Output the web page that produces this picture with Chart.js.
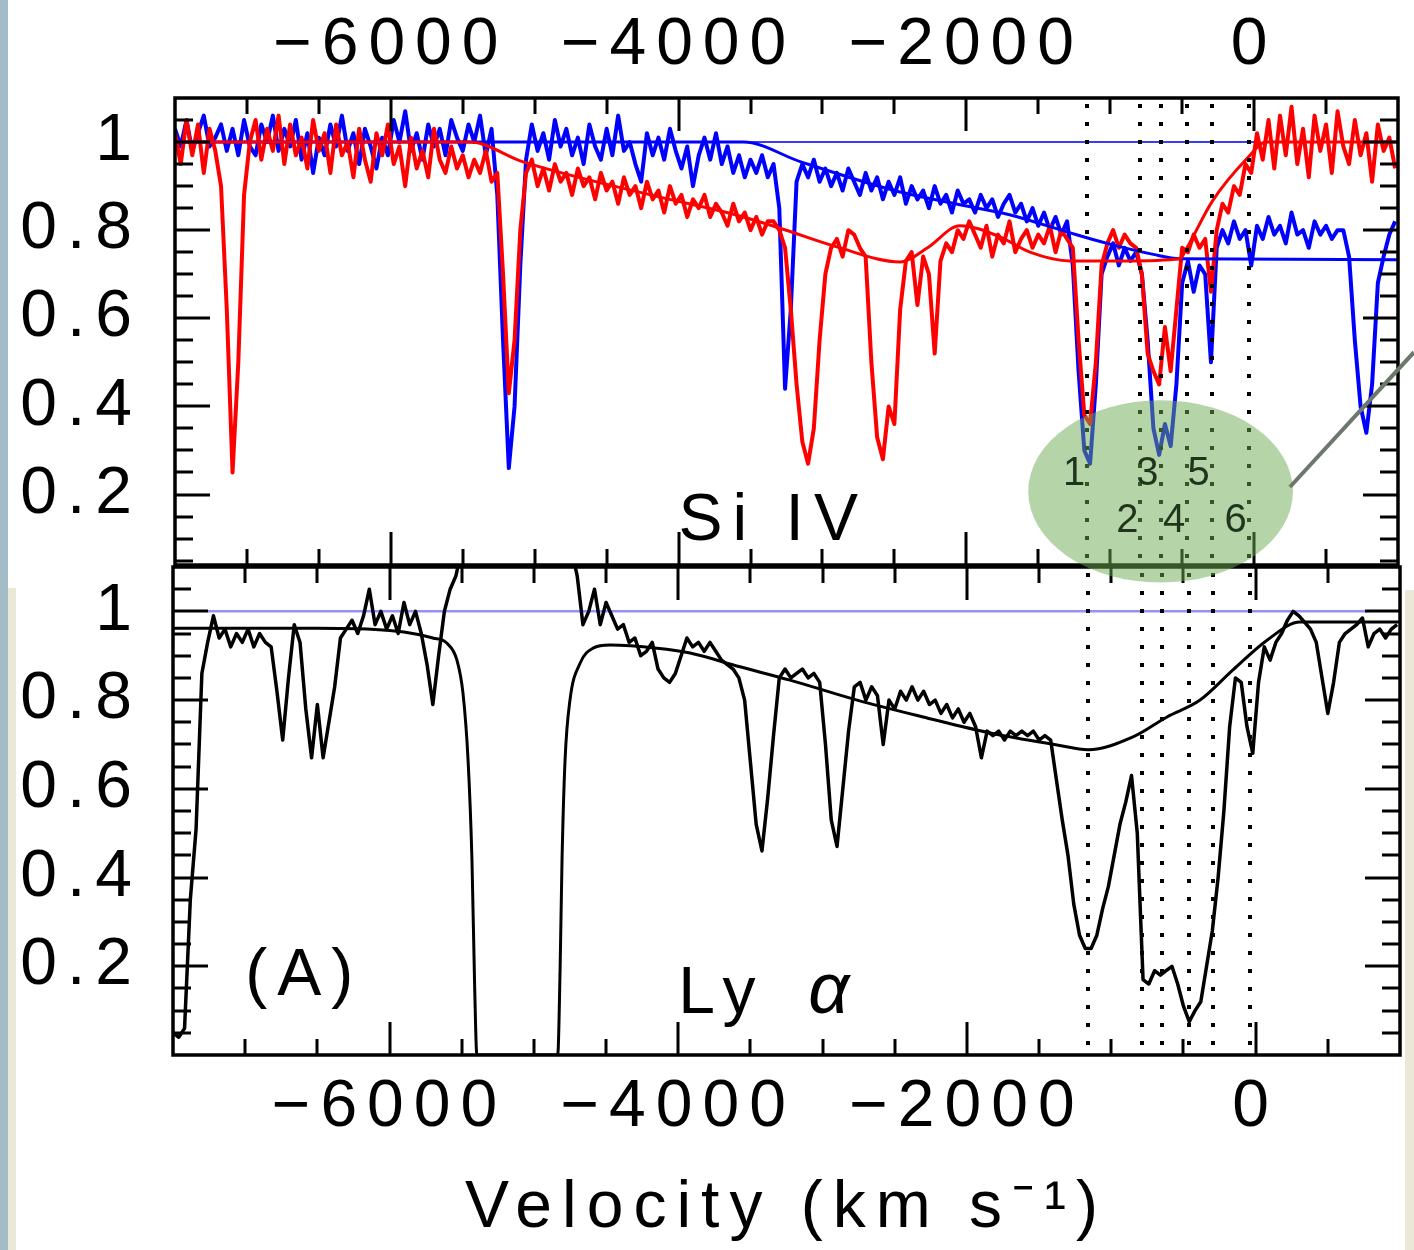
<!DOCTYPE html>
<html>
<head>
<meta charset="utf-8">
<title>Si IV and Ly alpha velocity profiles</title>
<script src="https://cdn.jsdelivr.net/npm/chart.js@4.4.1/dist/chart.umd.min.js"></script>
<style>
  html, body { margin: 0; padding: 0; background: #fff; }
  #page { position: relative; width: 1414px; height: 1250px; overflow: hidden; background: #fff; }
  #page canvas { position: absolute; left: 0; top: 0; }
  .edge { position: absolute; }
  #edgeLeft { left: 0; top: 0; width: 8px; height: 1250px; background: #a3bcc6; }
  #edgeLeftLow { left: 8px; top: 588px; width: 8px; height: 662px; background: #ebe8d8; }
  #edgeRightLow { left: 1405px; top: 590px; width: 9px; height: 660px; background: #ebe8d8; }
</style>
</head>
<body>
<div id="page">
  <div class="edge" id="edgeLeft"></div>
  <div class="edge" id="edgeLeftLow"></div>
  <div class="edge" id="edgeRightLow"></div>
  <canvas id="lyaChart" width="1414" height="1250"></canvas>
  <canvas id="siivChart" width="1414" height="1250"></canvas>
</div>
<script>
// Spectra are sampled on a regular velocity grid (km/s)
const SPEC_V0 = -7500;
const SPEC_DV = 40;

// Axis ticks
const xTicks = [-6000, -4000, -2000, 0];
const yTicks = [0.2, 0.4, 0.6, 0.8, 1];

// Si IV, red member (normalised flux), one value per grid step
const siivRed = [
  1.02, 0.95, 1.05, 0.97, 1.04, 0.93, 1.03, 0.98, 0.90, 0.62,
  0.25, 0.50, 0.88, 1.00, 1.05, 0.96, 1.03, 0.98, 1.06, 0.95,
  1.04, 0.97, 1.01, 0.94, 1.05, 0.98, 1.02, 0.93, 1.04, 0.97,
  1.00, 0.92, 1.03, 0.96, 0.91, 1.02, 0.97, 1.04, 0.95, 0.99,
  0.90, 1.01, 0.94, 0.98, 0.92, 1.03, 0.96, 0.93, 0.99, 0.94,
  0.97, 0.92, 0.96, 0.93, 0.98, 0.91, 0.93, 0.70, 0.43, 0.55,
  0.80, 0.93, 0.96, 0.90, 0.94, 0.89, 0.95, 0.91, 0.93, 0.88,
  0.94, 0.90, 0.92, 0.87, 0.93, 0.89, 0.91, 0.86, 0.92, 0.88,
  0.90, 0.85, 0.91, 0.87, 0.89, 0.84, 0.90, 0.86, 0.88, 0.83,
  0.87, 0.85, 0.88, 0.83, 0.86, 0.84, 0.81, 0.86, 0.82, 0.84,
  0.80, 0.83, 0.79, 0.82, 0.82, 0.80, 0.76, 0.62, 0.45, 0.32,
  0.27, 0.35, 0.55, 0.70, 0.76, 0.78, 0.74, 0.80, 0.79, 0.76,
  0.74, 0.50, 0.33, 0.28, 0.40, 0.36, 0.62, 0.73, 0.75, 0.63,
  0.74, 0.70, 0.52, 0.73, 0.77, 0.75, 0.80, 0.78, 0.82, 0.79,
  0.76, 0.81, 0.74, 0.79, 0.77, 0.82, 0.75, 0.78, 0.80, 0.76,
  0.79, 0.77, 0.81, 0.75, 0.80, 0.78, 0.76, 0.55, 0.38, 0.36,
  0.50, 0.72, 0.77, 0.80, 0.76, 0.79, 0.77, 0.76, 0.70, 0.52,
  0.48, 0.45, 0.58, 0.48, 0.62, 0.76, 0.75, 0.79, 0.76, 0.78,
  0.66, 0.80, 0.86, 0.84, 0.90, 0.88, 0.95, 0.93, 1.02, 0.96,
  1.05, 0.94, 1.06, 0.97, 1.08, 0.95, 1.03, 0.92, 1.06, 0.98,
  1.04, 0.93, 1.07, 0.99, 0.95, 1.05, 0.97, 1.02, 0.91, 1.04,
  0.98, 1.01, 0.94
];

// Si IV, blue member
const siivBlue = [
  1.03, 0.99, 1.05, 0.98, 1.02, 1.06, 0.99, 1.01, 1.04, 0.98,
  1.03, 0.97, 1.05, 0.99, 0.97, 1.04, 1.00, 1.06, 0.98, 1.03,
  0.99, 1.05, 0.96, 1.02, 0.93, 1.01, 0.97, 1.04, 0.99, 1.06,
  0.98, 1.02, 0.95, 1.03, 0.99, 0.94, 1.01, 0.97, 1.05, 1.00,
  1.07, 0.98, 1.02, 0.96, 1.04, 0.99, 1.03, 0.97, 1.05, 1.01,
  0.98, 1.04, 1.00, 1.06, 0.97, 1.03, 0.88, 0.55, 0.26, 0.40,
  0.72, 0.96, 1.04, 0.98, 1.02, 0.96, 1.05, 0.99, 1.03, 0.97,
  1.01, 0.95, 1.04, 0.99, 0.96, 1.03, 0.97, 1.06, 0.98, 1.00,
  0.95, 0.91, 1.02, 0.97, 1.01, 0.96, 1.03, 0.98, 0.94, 0.99,
  0.90, 0.97, 1.01, 0.96, 1.02, 0.95, 0.99, 0.93, 0.97, 0.92,
  0.96, 0.93, 0.97, 0.92, 0.95, 0.85, 0.44, 0.62, 0.91, 0.95,
  0.92, 0.96, 0.91, 0.94, 0.90, 0.93, 0.89, 0.94, 0.91, 0.88,
  0.93, 0.89, 0.92, 0.87, 0.91, 0.88, 0.92, 0.86, 0.90, 0.87,
  0.89, 0.85, 0.90, 0.86, 0.88, 0.84, 0.89, 0.86, 0.87, 0.84,
  0.88, 0.85, 0.87, 0.83, 0.86, 0.88, 0.84, 0.86, 0.82, 0.85,
  0.81, 0.84, 0.80, 0.83, 0.79, 0.82, 0.72, 0.48, 0.30, 0.27,
  0.45, 0.70, 0.74, 0.77, 0.72, 0.76, 0.73, 0.75, 0.70, 0.55,
  0.35, 0.29, 0.36, 0.31, 0.45, 0.68, 0.73, 0.66, 0.72, 0.70,
  0.50, 0.76, 0.80, 0.77, 0.82, 0.78, 0.80, 0.72, 0.81, 0.78,
  0.83, 0.79, 0.81, 0.77, 0.84, 0.79, 0.80, 0.76, 0.82, 0.79,
  0.81, 0.78, 0.80, 0.80, 0.74, 0.55, 0.40, 0.34, 0.45, 0.68,
  0.74, 0.79, 0.82
];

// Ly alpha (null where the emission runs off the top of the panel)
const lyaFlux = [
  0.05, 0.04, 0.06, 0.35, 0.51, 0.86, 0.93, 0.99, 0.94, 0.96,
  0.92, 0.95, 0.93, 0.96, 0.92, 0.95, 0.93, 0.92, 0.82, 0.71,
  0.85, 0.97, 0.93, 0.78, 0.67, 0.79, 0.67, 0.75, 0.83, 0.94,
  0.96, 0.98, 0.95, 0.99, 1.05, 0.97, 1.00, 0.96, 0.99, 0.95,
  1.02, 0.97, 1.00, 0.95, 0.88, 0.79, 0.90, 1.00, 1.05, 1.08,
  1.14, null, null, null, null, null, null, null, null, null,
  null, null, null, null, null, null, null, null, null, 1.14,
  1.08, 0.97, 1.00, 1.05, 0.97, 1.02, 0.99, 0.96, 0.97, 0.93,
  0.94, 0.90, 0.91, 0.93, 0.87, 0.85, 0.84, 0.86, 0.90, 0.94,
  0.92, 0.93, 0.91, 0.93, 0.91, 0.89, 0.88, 0.87, 0.85, 0.80,
  0.66, 0.52, 0.46, 0.58, 0.72, 0.85, 0.87, 0.85, 0.86, 0.87,
  0.85, 0.86, 0.84, 0.70, 0.53, 0.47, 0.60, 0.73, 0.83, 0.84,
  0.80, 0.83, 0.81, 0.70, 0.80, 0.78, 0.82, 0.80, 0.83, 0.80,
  0.82, 0.79, 0.80, 0.77, 0.79, 0.76, 0.78, 0.75, 0.77, 0.74,
  0.67, 0.73, 0.72, 0.73, 0.71, 0.73, 0.72, 0.73, 0.72, 0.73,
  0.71, 0.72, 0.71, 0.62, 0.53, 0.45, 0.34, 0.27, 0.24, 0.24,
  0.27, 0.33, 0.38, 0.45, 0.52, 0.57, 0.63, 0.50, 0.17, 0.16,
  0.19, 0.18, 0.19, 0.20, 0.16, 0.11, 0.075, 0.10, 0.12, 0.20,
  0.28, 0.40, 0.55, 0.74, 0.85, 0.84, 0.74, 0.68, 0.84, 0.92,
  0.89, 0.93, 0.95, 0.98, 1.00, 0.99, 0.975, 0.96, 0.93, 0.85,
  0.77, 0.84, 0.93, 0.95, 0.96, 0.97, 0.985, 0.92, 0.95, 0.96,
  0.94, 0.96, 0.97
];

// Smooth model profiles (velocity, flux)
const siivRedFitV = [-7500, -5450, -5080, -4130, -3665, -3300, -2900, -2460, -2270, -2045, -1767, -1558, -1280, -900, -516, -467, -290, -40, 80, 1000];
const siivRedFitF = [1.0, 1.0, 0.955, 0.875, 0.84, 0.805, 0.762, 0.728, 0.76, 0.81, 0.785, 0.75, 0.73, 0.73, 0.735, 0.76, 0.866, 0.966, 1.0, 1.0];

const siivBlueFitV = [-7500, -3550, -3150, -2500, -2000, -1700, -1300, -1023, -700, -516, 1000];
const siivBlueFitF = [1.0, 1.0, 0.955, 0.89, 0.855, 0.835, 0.796, 0.77, 0.745, 0.735, 0.733];

const lyaFitV = [-7500, -6500, -6000, -5800, -5700, -5602, -5533, -5491, -5456, -5429, -5410, -5395, -4835, -4818, -4805, -4784, -4750, -4680, -4590, -4473, -4147, -3918, -3572, -3226, -2761, -2304, -1840, -1376, -1161, -850, -614, -385, -157, 79, 307, 1000];
const lyaFitF = [0.962, 0.962, 0.957, 0.948, 0.94, 0.928, 0.89, 0.815, 0.665, 0.44, 0.15, 0.0, 0.0, 0.2, 0.44, 0.665, 0.80, 0.883, 0.917, 0.924, 0.917, 0.906, 0.875, 0.845, 0.80, 0.762, 0.726, 0.699, 0.688, 0.717, 0.762, 0.80, 0.868, 0.935, 0.976, 0.976];

// Unit continuum guides
const siivContinuumV = [-7500, 0];
const lyaContinuumV = [-7260, 770];

// Absorption components marked by dotted lines
const components = [-1160, -790, -650, -465, -295, -38];
const componentLabels = ['1', '2', '3', '4', '5', '6'];

const FONT = "'Liberation Sans', Arial, sans-serif";

const gridData = vals => vals.map((f, i) => ({ x: SPEC_V0 + i * SPEC_DV, y: f }));
const pairData = (vs, fs) => vs.map((v, i) => ({ x: v, y: fs[i] }));
const fmtVel = v => (v < 0 ? '\u2212' + Math.abs(v) : String(v));

function velocityAxis(position, height, title) {
  return {
    type: 'linear',
    position: position,
    min: -7500,
    max: 1000,
    afterFit: s => { s.height = height; },
    afterBuildTicks: s => { s.ticks = xTicks.map(value => ({ value })); },
    grid: { display: false, drawTicks: false, tickLength: 0 },
    border: { display: false },
    ticks: {
      font: { family: FONT, size: 66 },
      color: '#000',
      padding: 13,
      maxRotation: 0,
      autoSkip: false,
      callback: fmtVel
    },
    title: title ? {
      display: true,
      text: title,
      color: '#000',
      font: { family: FONT, size: 66 },
      padding: { top: 0, bottom: 2 }
    } : { display: false }
  };
}

function fluxAxis(min, max, width, padding) {
  return {
    type: 'linear',
    position: 'left',
    min: min,
    max: max,
    afterFit: s => { s.width = width; },
    afterBuildTicks: s => { s.ticks = yTicks.map(value => ({ value })); },
    grid: { display: false, drawTicks: false, tickLength: 0 },
    border: { display: false },
    ticks: {
      font: { family: FONT, size: 66 },
      color: '#000',
      padding: padding,
      callback: v => String(v)
    }
  };
}

// Inward ticks on all four sides plus the box
function drawFrame(chart) {
  const { ctx, chartArea: a } = chart;
  const xs = chart.scales.x, ys = chart.scales.y;
  ctx.save();
  ctx.strokeStyle = '#000';
  ctx.lineWidth = 3;
  ctx.beginPath();
  for (let v = -7000; v < 1000; v += 500) {
    const px = Math.round(xs.getPixelForValue(v));
    const len = v % 2000 === 0 ? 33 : 16;
    ctx.moveTo(px, a.top); ctx.lineTo(px, a.top + len);
    ctx.moveTo(px, a.bottom); ctx.lineTo(px, a.bottom - len);
  }
  for (let k = 1; k <= 21; k++) {
    const f = k * 0.05;
    if (f <= ys.min + 0.001 || f >= ys.max - 0.001) continue;
    const py = Math.round(ys.getPixelForValue(f));
    const len = k % 4 === 0 ? 35 : 18;
    ctx.moveTo(a.left, py); ctx.lineTo(a.left + len, py);
    ctx.moveTo(a.right, py); ctx.lineTo(a.right - len, py);
  }
  ctx.stroke();
  ctx.lineWidth = 3.5;
  ctx.strokeRect(a.left, a.top, a.right - a.left, a.bottom - a.top);
  ctx.restore();
}

function drawComponents(chart) {
  const { ctx, chartArea: a } = chart;
  const xs = chart.scales.x;
  ctx.save();
  ctx.strokeStyle = '#000';
  ctx.lineWidth = 4;
  ctx.setLineDash([4, 14]);
  components.forEach(v => {
    const px = Math.round(xs.getPixelForValue(v));
    ctx.beginPath();
    ctx.moveTo(px, a.top + 6);
    ctx.lineTo(px, a.bottom);
    ctx.stroke();
  });
  ctx.restore();
}

function drawLabel(chart, text, v, f, font, spacing) {
  const { ctx } = chart;
  ctx.save();
  ctx.font = font;
  ctx.letterSpacing = spacing;
  ctx.fillStyle = '#000';
  ctx.textAlign = 'left';
  ctx.textBaseline = 'alphabetic';
  ctx.fillText(text, chart.scales.x.getPixelForValue(v), chart.scales.y.getPixelForValue(f));
  ctx.restore();
}

// Canvas letter spacing for the wide IDL-like lettering
const spacingPlugin = {
  id: 'spacing',
  beforeDraw(chart) { chart.ctx.letterSpacing = '10px'; },
  afterDraw(chart) { chart.ctx.letterSpacing = '0px'; }
};

const siivPlugin = {
  id: 'siivPanel',
  afterDatasetsDraw(chart) {
    drawComponents(chart);
    drawFrame(chart);
    drawLabel(chart, 'Si IV', -4000, 0.097, '66px ' + FONT, '10px');
  },
  afterDraw(chart) {
    const { ctx } = chart;
    const xs = chart.scales.x, ys = chart.scales.y;
    // highlight ellipse around the components
    const x1 = xs.getPixelForValue(-1570), x2 = xs.getPixelForValue(270);
    const y1 = ys.getPixelForValue(0.414), y2 = ys.getPixelForValue(0.0);
    ctx.save();
    ctx.fillStyle = 'rgba(107, 169, 81, 0.5)';
    ctx.beginPath();
    ctx.ellipse((x1 + x2) / 2, (y1 + y2) / 2, (x2 - x1) / 2, (y2 - y1) / 2, 0, 0, Math.PI * 2);
    ctx.fill();
    // component numbers
    ctx.font = '40px ' + FONT;
    ctx.fillStyle = '#1f361c';
    ctx.textAlign = 'right';
    components.forEach((v, i) => {
      const f = i % 2 === 0 ? 0.222 : 0.115;
      ctx.fillText(componentLabels[i], xs.getPixelForValue(v) - 2, ys.getPixelForValue(f));
    });
    // pointer line leaving the ellipse
    ctx.strokeStyle = '#6d786c';
    ctx.lineWidth = 4;
    ctx.beginPath();
    ctx.moveTo(xs.getPixelForValue(249), ys.getPixelForValue(0.217));
    ctx.lineTo(xs.getPixelForValue(1111), ys.getPixelForValue(0.523));
    ctx.stroke();
    ctx.restore();
  }
};

const lyaPlugin = {
  id: 'lyaPanel',
  afterDatasetsDraw(chart) {
    drawComponents(chart);
    drawFrame(chart);
    drawLabel(chart, '(A)', -7000, 0.135, '66px ' + FONT, '10px');
    drawLabel(chart, 'Ly', -4000, 0.095, '66px ' + FONT, '10px');
    drawLabel(chart, '\u03b1', -3100, 0.095, 'italic 72px ' + FONT, '0px');
  }
};

const commonOptions = {
  responsive: false,
  animation: false,
  devicePixelRatio: 1,
  plugins: { legend: { display: false }, tooltip: { enabled: false } },
  elements: {
    point: { radius: 0 },
    line: { tension: 0, borderJoinStyle: 'round', fill: false }
  }
};

new Chart(document.getElementById('lyaChart'), {
  type: 'line',
  data: {
    datasets: [
      { label: 'Ly alpha model', data: pairData(lyaFitV, lyaFitF), borderColor: '#000', borderWidth: 3, cubicInterpolationMode: 'monotone', order: 0 },
      { label: 'Ly alpha', data: gridData(lyaFlux), borderColor: '#000', borderWidth: 3.5, spanGaps: false, order: 1 },
      { label: 'continuum', data: pairData(lyaContinuumV, [1, 1]), borderColor: 'rgba(110, 110, 255, 0.75)', borderWidth: 2.5, order: 2 }
    ]
  },
  options: Object.assign({}, commonOptions, {
    layout: { padding: { top: 567, left: 0, right: 14, bottom: 0 } },
    scales: {
      x: velocityAxis('bottom', 195, 'Velocity (km s\u207b\u00b9)'),
      y: fluxAxis(0, 1.1, 173, 31)
    }
  }),
  plugins: [spacingPlugin, lyaPlugin]
});

new Chart(document.getElementById('siivChart'), {
  type: 'line',
  data: {
    datasets: [
      { label: 'Si IV red model', data: pairData(siivRedFitV, siivRedFitF), borderColor: '#ff0000', borderWidth: 3, cubicInterpolationMode: 'monotone', order: 0 },
      { label: 'Si IV blue model', data: pairData(siivBlueFitV, siivBlueFitF), borderColor: '#0000ff', borderWidth: 3, cubicInterpolationMode: 'monotone', order: 1 },
      { label: 'Si IV red', data: gridData(siivRed), borderColor: '#ff0000', borderWidth: 4, order: 2 },
      { label: 'Si IV blue', data: gridData(siivBlue), borderColor: '#0000ff', borderWidth: 4, order: 3 },
      { label: 'continuum', data: pairData(siivContinuumV, [1, 1]), borderColor: '#3a3aff', borderWidth: 2, order: 4 }
    ]
  },
  options: Object.assign({}, commonOptions, {
    layout: { padding: { top: 0, left: 0, right: 16, bottom: 685 } },
    scales: {
      x: velocityAxis('top', 98, null),
      y: fluxAxis(0.04, 1.1, 175, 33)
    }
  }),
  plugins: [spacingPlugin, siivPlugin]
});
</script>
</body>
</html>
